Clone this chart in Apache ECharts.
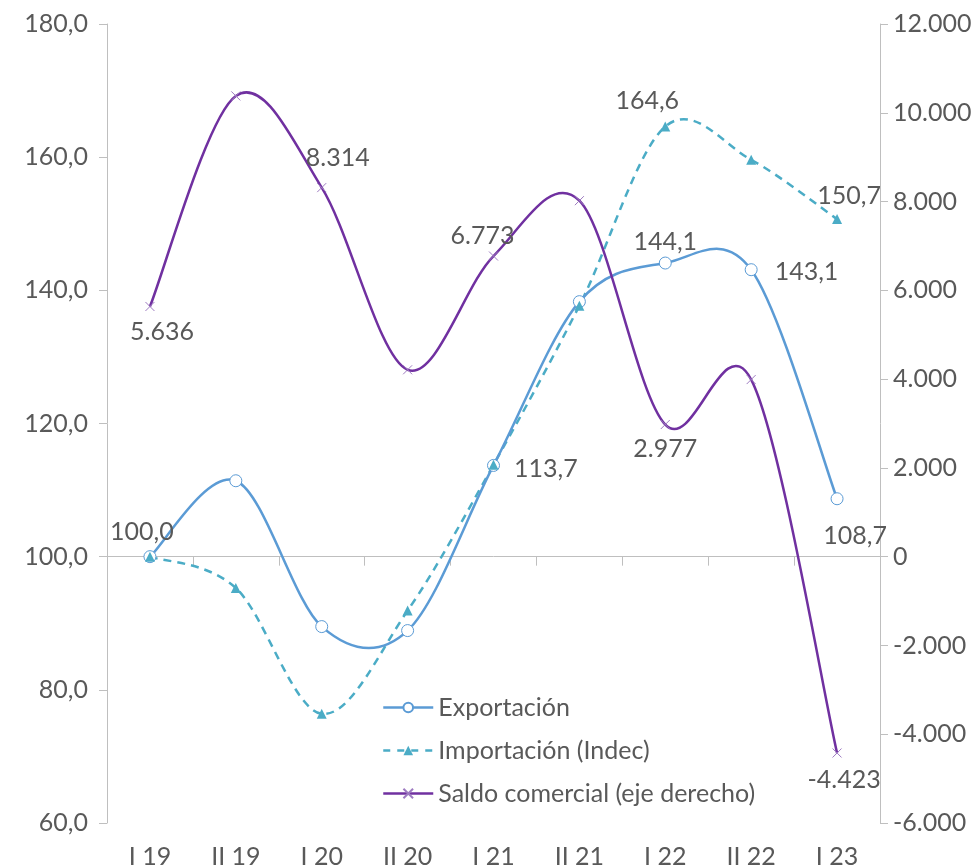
<!DOCTYPE html>
<html>
<head>
<meta charset="utf-8">
<style>
  html, body { margin: 0; padding: 0; background: #ffffff; }
  #chart { width: 980px; height: 867px; }
</style>
<script src="https://cdn.jsdelivr.net/npm/echarts@6/dist/echarts.min.js"></script>
</head>
<body>
<div id="chart"></div>
<script>
// Semesters
const categories = ['I 19', 'II 19', 'I 20', 'II 20', 'I 21', 'II 21', 'I 22', 'II 22', 'I 23'];

// Index values (I 19 = 100), left axis
const exportacion = [100.0, 111.4, 89.5, 88.9, 113.7, 138.3, 144.1, 143.1, 108.7];
const importacion = [100.0, 95.3, 76.4, 91.9, 113.8, 137.7, 164.6, 159.6, 150.7];

// Trade balance, right axis
const saldo = [5636, 10380, 8314, 4210, 6773, 8020, 2977, 3990, -4423];

// Axis ranges
const leftAxisRange = [60, 180, 20];
const rightAxisRange = [-6000, 12000, 2000];

const FONT = 'Lato';
const FS = 25;
const TXT = '#595959';
const AXIS_GREY = '#bfbfbf';

const COLOR_EXP = '#5b9bd5';
const COLOR_IMP = '#4bacc6';
const COLOR_SAL = '#7030a0';

const fmtIndex = v => v.toFixed(1).replace('.', ',');
const fmtThousands = v => {
  const s = Math.abs(Math.round(v)).toString().replace(/\B(?=(\d{3})+(?!\d))/g, '.');
  return (v < 0 ? '-' : '') + s;
};

// Which points carry a value label, and where it sits
const exportLabels = {
  0: { position: 'top', offset: [-8, 0] },
  4: { position: 'right', offset: [8, 3] },
  6: { position: 'top', offset: [0, 4] },
  7: { position: 'right', offset: [11, 2] },
  8: { position: 'bottom', offset: [18, 12] }
};
const importLabels = {
  6: { position: 'top', offset: [-18, -2] },
  8: { position: 'top', offset: [12, 0] }
};
const saldoLabels = {
  0: { position: 'bottom', offset: [12, 2] },
  2: { position: 'top', offset: [16, -6] },
  4: { position: 'top', offset: [-11, 3] },
  6: { position: 'bottom', offset: [0, 1] },
  8: { position: 'bottom', offset: [7, 3] }
};

function withLabels(values, labels, fmt) {
  return values.map((v, i) => {
    const l = labels[i];
    if (!l) return { value: v };
    return {
      value: v,
      label: {
        show: true,
        position: l.position,
        offset: l.offset,
        distance: 6,
        formatter: () => fmt(v),
        fontFamily: FONT,
        fontSize: FS,
        color: TXT
      }
    };
  });
}

// Smooth curve through the points (Catmull-Rom converted to cubic Bezier segments)
function smoothPath(pts) {
  let d = 'M' + pts[0][0] + ',' + pts[0][1];
  for (let i = 0; i < pts.length - 1; i++) {
    const p0 = pts[i - 1] || pts[i];
    const p1 = pts[i];
    const p2 = pts[i + 1];
    const p3 = pts[i + 2] || p2;
    const c1 = [p1[0] + (p2[0] - p0[0]) / 6, p1[1] + (p2[1] - p0[1]) / 6];
    const c2 = [p2[0] - (p3[0] - p1[0]) / 6, p2[1] - (p3[1] - p1[1]) / 6];
    d += ' C' + c1[0] + ',' + c1[1] + ' ' + c2[0] + ',' + c2[1] + ' ' + p2[0] + ',' + p2[1];
  }
  return d;
}

function curveSeries(id, values, yAxisIndex, lineStyle, z) {
  return {
    id: id,
    name: id,
    type: 'custom',
    yAxisIndex: yAxisIndex,
    data: [0],
    z: z,
    silent: true,
    renderItem: function (params, api) {
      const pts = values.map((v, i) => api.coord([i, v]));
      return {
        type: 'path',
        shape: { pathData: smoothPath(pts) },
        style: Object.assign({ fill: null }, lineStyle)
      };
    }
  };
}

const crossPath = 'path://M0,0 L10,10 M10,0 L0,10';

const chart = echarts.init(document.getElementById('chart'), null, { renderer: 'canvas' });

chart.setOption({
  animation: false,
  backgroundColor: '#ffffff',
  textStyle: { fontFamily: FONT },
  grid: { left: 107, right: 100, top: 24, bottom: 44, containLabel: false, outerBoundsMode: 'none' },
  legend: {
    orient: 'vertical',
    left: 377,
    top: 690,
    itemWidth: 50,
    itemHeight: 12,
    itemGap: 18,
    textStyle: { fontFamily: FONT, fontSize: FS, color: TXT },
    data: [
      { name: 'Exportación', lineStyle: { color: COLOR_EXP, width: 2.5, opacity: 1 } },
      { name: 'Importación (Indec)', lineStyle: { color: COLOR_IMP, width: 2.5, type: [7, 7], opacity: 1 } },
      { name: 'Saldo comercial (eje derecho)', lineStyle: { color: COLOR_SAL, width: 2.5, opacity: 1 } }
    ]
  },
  xAxis: {
    type: 'category',
    data: categories,
    boundaryGap: true,
    axisLine: { lineStyle: { color: AXIS_GREY, width: 1 } },
    axisTick: { show: true, length: 9, interval: 0, lineStyle: { color: AXIS_GREY } },
    axisLabel: { fontFamily: FONT, fontSize: FS, color: TXT, margin: 21, interval: 0 },
    splitLine: { show: false }
  },
  yAxis: [
    {
      type: 'value',
      min: leftAxisRange[0],
      max: leftAxisRange[1],
      interval: leftAxisRange[2],
      position: 'left',
      axisLine: { show: true, lineStyle: { color: AXIS_GREY } },
      axisTick: { show: true, length: 8, lineStyle: { color: AXIS_GREY } },
      axisLabel: { fontFamily: FONT, fontSize: FS, color: TXT, margin: 19, formatter: v => fmtIndex(v) },
      splitLine: { show: false }
    },
    {
      type: 'value',
      min: rightAxisRange[0],
      max: rightAxisRange[1],
      interval: rightAxisRange[2],
      position: 'right',
      axisLine: { show: true, lineStyle: { color: AXIS_GREY } },
      axisTick: { show: true, length: 8, lineStyle: { color: AXIS_GREY } },
      axisLabel: { fontFamily: FONT, fontSize: FS, color: TXT, margin: 13, align: 'left', formatter: v => fmtThousands(v) },
      splitLine: { show: false }
    }
  ],
  series: [
    curveSeries('curvaExportacion', exportacion, 0, { stroke: COLOR_EXP, lineWidth: 2.5 }, 3),
    curveSeries('curvaImportacion', importacion, 0, { stroke: COLOR_IMP, lineWidth: 2.5, lineDash: [8, 6] }, 2),
    curveSeries('curvaSaldo', saldo, 1, { stroke: COLOR_SAL, lineWidth: 2.5 }, 4),
    {
      name: 'Exportación',
      type: 'line',
      yAxisIndex: 0,
      data: withLabels(exportacion, exportLabels, fmtIndex),
      symbol: 'circle',
      symbolSize: 12,
      lineStyle: { color: COLOR_EXP, opacity: 0 },
      itemStyle: { color: '#ffffff', borderColor: COLOR_EXP, borderWidth: 1 },
      z: 5
    },
    {
      name: 'Importación (Indec)',
      type: 'line',
      yAxisIndex: 0,
      data: withLabels(importacion, importLabels, fmtIndex),
      symbol: 'triangle',
      symbolSize: 10,
      lineStyle: { color: COLOR_IMP, opacity: 0 },
      itemStyle: { color: COLOR_IMP },
      z: 5
    },
    {
      name: 'Saldo comercial (eje derecho)',
      type: 'line',
      yAxisIndex: 1,
      data: withLabels(saldo, saldoLabels, fmtThousands),
      symbol: crossPath,
      symbolSize: 9,
      lineStyle: { color: COLOR_SAL, opacity: 0 },
      itemStyle: { color: '#9e7cc1', borderColor: '#9e7cc1', borderWidth: 1 },
      z: 5
    }
  ]
});
</script>
</body>
</html>
